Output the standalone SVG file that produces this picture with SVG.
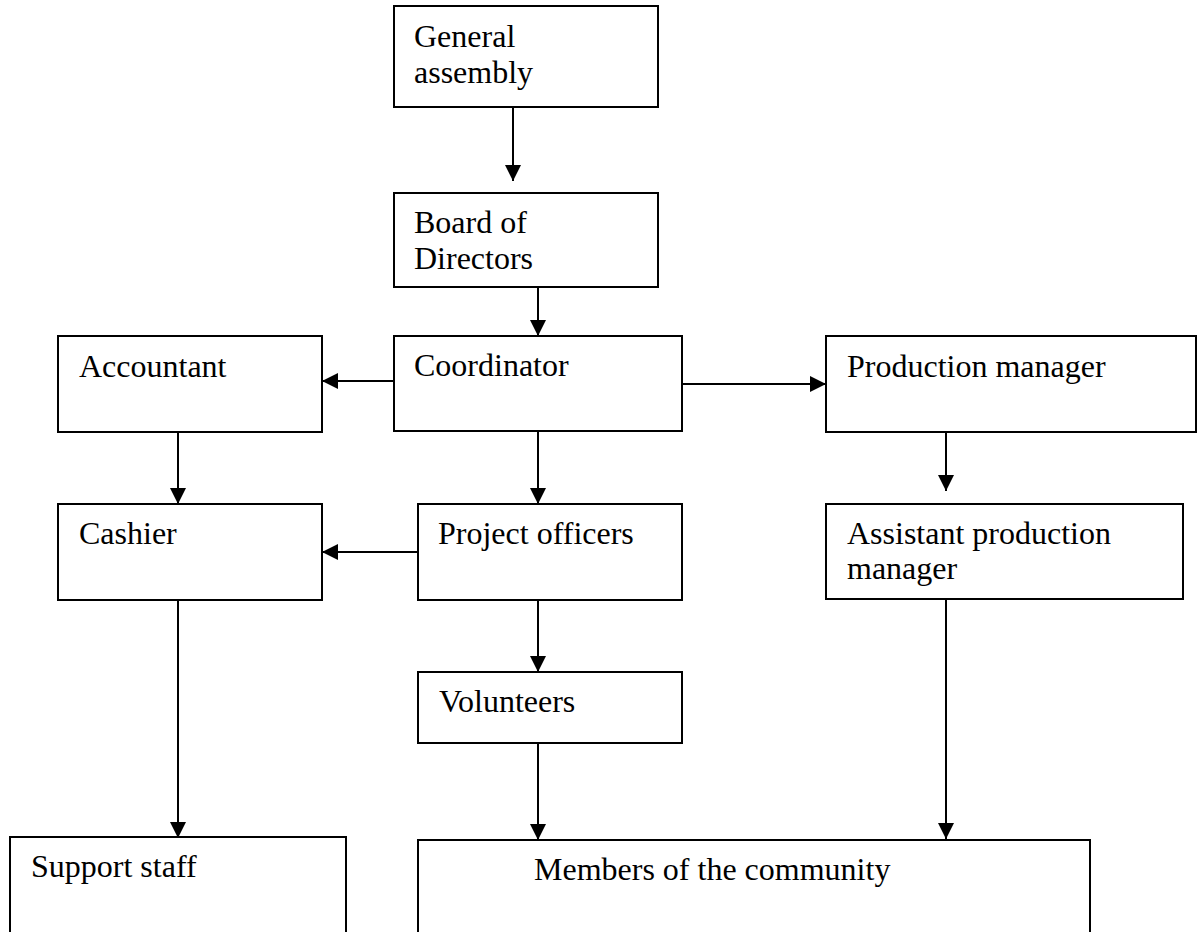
<svg xmlns="http://www.w3.org/2000/svg" width="1204" height="932" viewBox="0 0 1204 932">
<defs>
<style>
.box{fill:#fff;stroke:#000;stroke-width:2}
.lbl{font-family:"Liberation Serif","Times New Roman",serif;font-size:32px;fill:#000}
.conn line{stroke:#000;stroke-width:2}
</style>
<marker id="ah" markerUnits="userSpaceOnUse" markerWidth="16" markerHeight="16" viewBox="0 0 16 16" refX="16" refY="8" orient="auto">
<path d="M0,0 L16,8 L0,16 z" fill="#000"/>
</marker>
</defs>
<rect width="1204" height="932" fill="#fff"/>
<g id="general-assembly"><rect class="box" x="394" y="6" width="264" height="101"/><text class="lbl" x="414" y="47">General</text><text class="lbl" x="414" y="83">assembly</text></g>
<g id="board"><rect class="box" x="394" y="193" width="264" height="94"/><text class="lbl" x="414" y="233">Board of</text><text class="lbl" x="414" y="269">Directors</text></g>
<g id="coordinator"><rect class="box" x="394" y="336" width="288" height="95"/><text class="lbl" x="414" y="376">Coordinator</text></g>
<g id="accountant"><rect class="box" x="58" y="336" width="264" height="96"/><text class="lbl" x="79" y="377">Accountant</text></g>
<g id="production-manager"><rect class="box" x="826" y="336" width="370" height="96"/><text class="lbl" x="847" y="377">Production manager</text></g>
<g id="cashier"><rect class="box" x="58" y="504" width="264" height="96"/><text class="lbl" x="79" y="544">Cashier</text></g>
<g id="project-officers"><rect class="box" x="418" y="504" width="264" height="96"/><text class="lbl" x="438" y="544">Project officers</text></g>
<g id="assistant-production-manager"><rect class="box" x="826" y="504" width="357" height="95"/><text class="lbl" x="847" y="544">Assistant production</text><text class="lbl" x="847" y="579">manager</text></g>
<g id="volunteers"><rect class="box" x="418" y="672" width="264" height="71"/><text class="lbl" x="439" y="712">Volunteers</text></g>
<g id="support-staff"><rect class="box" x="10" y="837" width="336" height="97"/><text class="lbl" x="31" y="877">Support staff</text></g>
<g id="members"><rect class="box" x="418" y="840" width="672" height="94"/><text class="lbl" x="534" y="880">Members of the community</text></g>
<g id="connectors" class="conn">
<line x1="513" y1="107" x2="513" y2="181" marker-end="url(#ah)"/>
<line x1="538" y1="287" x2="538" y2="336" marker-end="url(#ah)"/>
<line x1="393" y1="381" x2="322" y2="381" marker-end="url(#ah)"/>
<line x1="682" y1="384" x2="826" y2="384" marker-end="url(#ah)"/>
<line x1="178" y1="432" x2="178" y2="504" marker-end="url(#ah)"/>
<line x1="538" y1="431" x2="538" y2="504" marker-end="url(#ah)"/>
<line x1="418" y1="552" x2="322" y2="552" marker-end="url(#ah)"/>
<line x1="946" y1="432" x2="946" y2="491" marker-end="url(#ah)"/>
<line x1="178" y1="600" x2="178" y2="838" marker-end="url(#ah)"/>
<line x1="538" y1="600" x2="538" y2="672" marker-end="url(#ah)"/>
<line x1="538" y1="743" x2="538" y2="840" marker-end="url(#ah)"/>
<line x1="946" y1="599" x2="946" y2="839" marker-end="url(#ah)"/>
</g>
</svg>
